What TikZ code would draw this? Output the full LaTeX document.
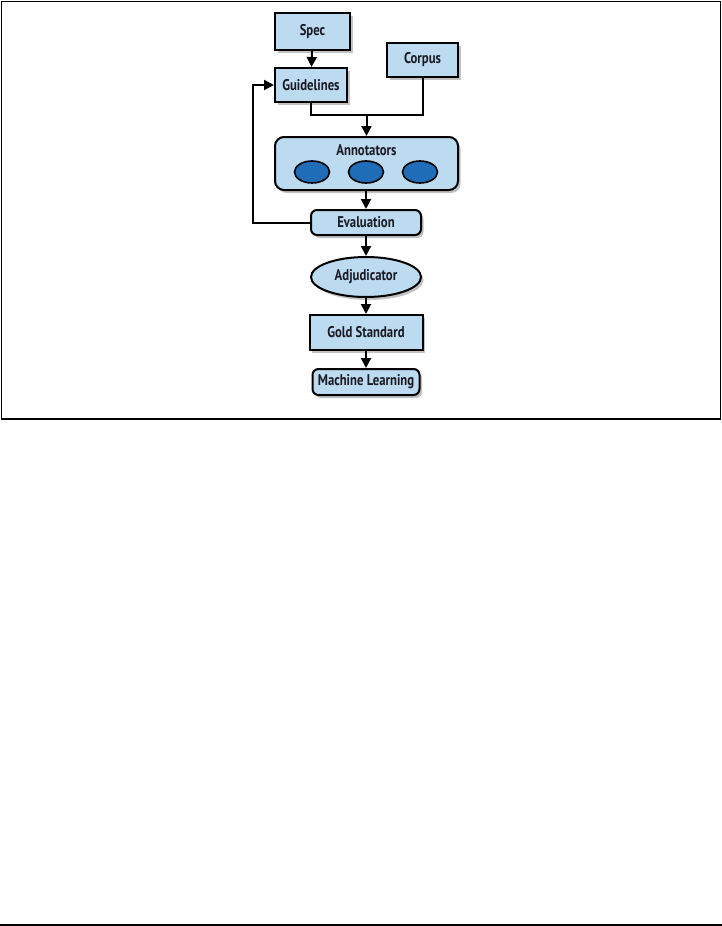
\documentclass[tikz,border=0pt]{standalone}
\usepackage{fontspec}
\setmainfont{PT Sans}[FakeStretch=0.82]
\usetikzlibrary{arrows.meta,shapes.geometric,shadows}
\definecolor{lightfill}{HTML}{BCDAF0}
\definecolor{darkfill}{HTML}{1E6DB6}
\definecolor{txt}{HTML}{1A1A22}
\tikzset{
  shad/.style={drop shadow={shadow xshift=2.5pt,shadow yshift=-3pt,opacity=0.4,fill=black!60}},
  lbl/.style={text=txt,font=\fontsize{15.5}{18}\selectfont\bfseries},
  sqbox/.style={draw=black,line width=2pt,fill=lightfill,shad,inner sep=0pt,lbl},
  rdbox/.style={sqbox,rounded corners=6pt},
  ovl/.style={sqbox,ellipse},
  dot/.style={draw=black,line width=1.6pt,fill=darkfill,ellipse,inner sep=0pt,minimum width=35pt,minimum height=22pt},
  conn/.style={line width=2pt,draw=black},
  arr/.style={conn,-{Triangle[length=10pt,width=10pt]}}
}
\begin{document}
\begin{tikzpicture}[x=1pt,y=-1pt]
\useasboundingbox (0,0) rectangle (722,926);
\draw[line width=1.5pt] (1.5,1.5) rectangle (720.5,419);
\draw[line width=1.5pt] (0,925) -- (722,925);
\node[sqbox,minimum width=75pt,minimum height=37pt] (spec) at (312.5,31.5) {Spec};
\node[sqbox,minimum width=72pt,minimum height=34pt] (guide) at (311,85) {Guidelines};
\node[sqbox,minimum width=71pt,minimum height=34pt] (corpus) at (422.5,60) {Corpus};
\node[rdbox,rounded corners=9pt,minimum width=183pt,minimum height=53pt] (annot) at (366.5,163.5) {};
\node[lbl,inner sep=0pt] (annotlbl) at (366.5,150) {Annotators};
\node[dot] (d1) at (312,172) {};
\node[dot] (d2) at (366,172) {};
\node[dot] (d3) at (420,172) {};
\node[rdbox,minimum width=110pt,minimum height=25pt] (eval) at (366,222.5) {Evaluation};
\node[ovl,minimum width=110pt,minimum height=40pt] (adj) at (366,277) {Adjudicator};
\node[sqbox,minimum width=113pt,minimum height=35pt] (gold) at (366,332.5) {Gold Standard};
\node[rdbox,minimum width=107pt,minimum height=26pt] (ml) at (366,382) {Machine Learning};
\coordinate (jl) at (guide.south |- 0,115);
\coordinate (jr) at (corpus.south |- 0,115);
\coordinate (jm) at (366.5,115);
\coordinate (fb1) at (253,0 |- eval.west);
\coordinate (fb2) at (253,0 |- guide.west);
\draw[arr] (spec) -- (guide);
\draw[conn] (guide.south) -- (jl) -- (jr) -- (corpus.south);
\draw[arr] (jm) -- (annot.north);
\draw[arr] (annot.south -| eval.north) -- (eval.north);
\draw[arr] (eval) -- (adj);
\draw[arr] (adj) -- (gold);
\draw[arr] (gold) -- (ml);
\draw[arr] (eval.west) -- (fb1) -- (fb2) -- (guide.west);
\end{tikzpicture}
\end{document}
